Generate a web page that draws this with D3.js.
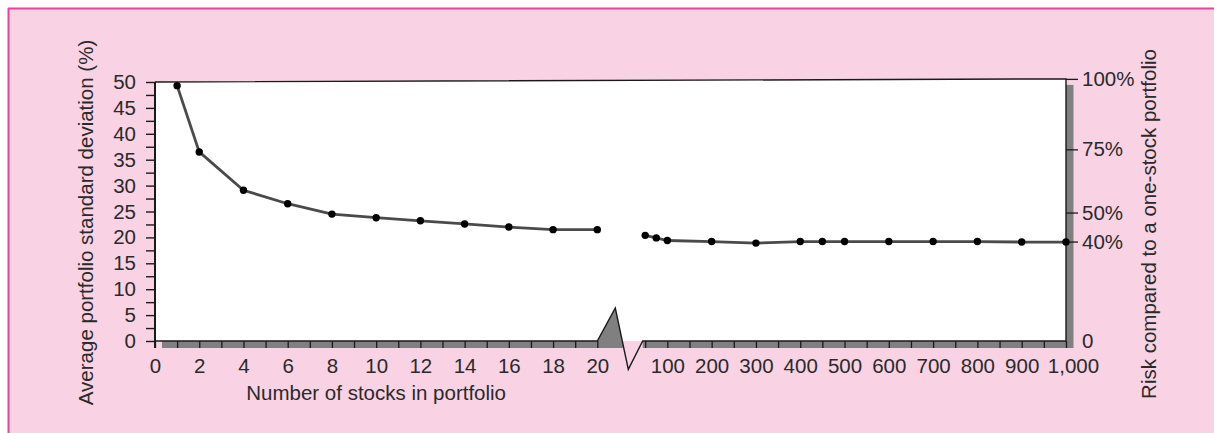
<!DOCTYPE html>
<html>
<head>
<meta charset="utf-8">
<script src="https://cdn.jsdelivr.net/npm/d3@7"></script>
<style>
  html, body { margin: 0; padding: 0; background: #ffffff; }
  svg { display: block; }
  text { font-family: "Liberation Sans", Arial, sans-serif; fill: #2a2a2a; }
</style>
</head>
<body>
<svg id="chart" width="1214" height="433"></svg>
<script>
// ---- data ----
const leftStocks = [1, 2, 4, 6, 8, 10, 12, 14, 16, 18, 20];
const leftStdDev = [49.3, 36.5, 29.1, 26.5, 24.5, 23.8, 23.2, 22.6, 22.0, 21.5, 21.5];
const rightStocks = [50, 75, 100, 200, 300, 400, 450, 500, 600, 700, 800, 900, 1000];
const rightStdDev = [20.4, 19.9, 19.4, 19.2, 18.9, 19.2, 19.2, 19.2, 19.2, 19.2, 19.2, 19.1, 19.1];
const leftYTicks = d3.range(0, 50.01, 2.5);
const leftXTicks = d3.range(0, 21, 1);
const rightXTicks = d3.range(50, 1001, 50);
const riskTickLevels = [0, 19.2, 24.8, 37.0, 50.6];   // positions in std-dev units
const riskTickLabels = ["0", "40%", "50%", "75%", "100%"];
const xTitle = "Number of stocks in portfolio";
const yTitle = "Average portfolio standard deviation (%)";
const rTitle = "Risk compared to a one-stock portfolio";

// ---- layout ----
const svg = d3.select("#chart");
const W = 1214, H = 433;
const plotL = 155, plotR = 1066, plotB = 341;
const shadow = 7;
const FS = 20.5;
const FONT = "Liberation Sans, Arial, sans-serif";
const TXT = "#2a2a2a";

const y = d3.scaleLinear().domain([0, 50]).range([plotB, 82]);
const xL = d3.scaleLinear().domain([0, 20]).range([plotL, 597.3]);
const xR = d3.scaleLinear().domain([50, 1000]).range([645.2, plotR]);

// background panel
svg.append("rect").attr("x", 0).attr("y", 0).attr("width", W).attr("height", H).attr("fill", "#ffffff");
svg.append("rect").attr("x", 9).attr("y", 9).attr("width", W - 9).attr("height", H - 9).attr("fill", "#f9d3e4");
svg.append("line").attr("x1", 8).attr("x2", W).attr("y1", 8.5).attr("y2", 8.5).attr("stroke", "#e8429a").attr("stroke-width", 2);
svg.append("line").attr("x1", 8.5).attr("x2", 8.5).attr("y1", 8).attr("y2", H).attr("stroke", "#e8429a").attr("stroke-width", 2);

const topL = y(50), topR = y(riskTickLevels[riskTickLevels.length - 1]);

// shadows
const gray = "#808080";
svg.append("rect").attr("x", plotR).attr("y", topR + 6).attr("width", shadow + 0.5).attr("height", plotB + shadow - topR - 6).attr("fill", gray);
svg.append("rect").attr("x", plotL + 7).attr("y", plotB).attr("width", xL(20) - plotL - 7).attr("height", shadow).attr("fill", gray);
const bx0 = xL(20), bEnd = xR(50) - 2.5;
svg.append("rect").attr("x", bEnd).attr("y", plotB).attr("width", plotR - bEnd).attr("height", shadow).attr("fill", gray);

// plot area
svg.append("path")
  .attr("d", `M${plotL},${topL} L${plotR},${topR} L${plotR},${plotB} L${plotL},${plotB} Z`)
  .attr("fill", "#ffffff");
svg.append("path")
  .attr("d", `M${plotL},${topL} L${plotR},${topR} L${plotR},${plotB}`)
  .attr("fill", "none").attr("stroke", "#1a1a1a").attr("stroke-width", 1.4);

// break glyph fill
svg.append("path")
  .attr("d", `M${bx0},${plotB} L${bx0 + 18},${plotB - 33} L${bx0 + 26.4},${plotB + shadow} L${bx0},${plotB + shadow} Z`)
  .attr("fill", gray);

// bottom axis lines with break
svg.append("path")
  .attr("d", `M${plotL},${plotB} L${bx0},${plotB} L${bx0 + 18},${plotB - 33} L${bx0 + 31},${plotB + 28.3} L${bEnd},${plotB} L${plotR},${plotB}`)
  .attr("fill", "none").attr("stroke", "#1a1a1a").attr("stroke-width", 1.4).attr("stroke-linejoin", "miter");

// left axis
svg.append("line").attr("x1", plotL).attr("x2", plotL).attr("y1", topL).attr("y2", plotB + shadow)
  .attr("stroke", "#1a1a1a").attr("stroke-width", 2);
const ya = svg.append("g").attr("transform", `translate(${plotL},0)`)
  .call(d3.axisLeft(y).tickValues(leftYTicks).tickSize(9).tickPadding(10)
    .tickFormat(d => (d % 5 === 0 ? d3.format("d")(d) : "")));
ya.select(".domain").remove();
ya.selectAll(".tick line").attr("stroke", "#1a1a1a").attr("stroke-width", 1.4);
ya.selectAll("text").attr("font-size", FS).attr("font-family", FONT).attr("fill", TXT);

// bottom left axis
const xaL = svg.append("g").attr("transform", `translate(0,${plotB})`)
  .call(d3.axisBottom(xL).tickValues(leftXTicks).tickSize(shadow).tickPadding(10)
    .tickFormat(d => (d % 2 === 0 ? d : "")));
xaL.select(".domain").remove();
xaL.selectAll(".tick line").attr("stroke", "#1a1a1a").attr("stroke-width", 1.3);
xaL.selectAll("text").attr("font-size", FS).attr("font-family", FONT).attr("fill", TXT);

// bottom right axis
const xaR = svg.append("g").attr("transform", `translate(0,${plotB})`)
  .call(d3.axisBottom(xR).tickValues(rightXTicks).tickSize(shadow).tickPadding(10)
    .tickFormat(d => (d % 100 === 0 ? d3.format(",")(d) : "")));
xaR.select(".domain").remove();
xaR.selectAll(".tick line").attr("stroke", "#1a1a1a").attr("stroke-width", 1.3);
xaR.selectAll("text").attr("font-size", FS).attr("font-family", FONT).attr("fill", TXT);
xaR.selectAll(".tick").filter(d => d === 1000).select("text").attr("x", 7);

// right risk axis
const ra = svg.append("g").attr("transform", `translate(${plotR},0)`)
  .call(d3.axisRight(y).tickValues(riskTickLevels).tickSize(12).tickPadding(4)
    .tickFormat((d, i) => riskTickLabels[i]));
ra.select(".domain").remove();
ra.selectAll(".tick line").attr("stroke", "#1a1a1a").attr("stroke-width", 1.3);
ra.selectAll(".tick").filter((d, i) => i === 0).select("line").remove();
ra.selectAll(".tick").filter((d, i) => i === 0).select("text").attr("x", 16);
ra.selectAll("text").attr("font-size", FS).attr("font-family", FONT).attr("fill", TXT);

// data lines
const lineL = d3.line().x(d => xL(d[0])).y(d => y(d[1]));
const lineR = d3.line().x(d => xR(d[0])).y(d => y(d[1]));
const leftData = leftStocks.map((s, i) => [s, leftStdDev[i]]);
const rightData = rightStocks.map((s, i) => [s, rightStdDev[i]]);

svg.append("path").datum(leftData).attr("d", lineL)
  .attr("fill", "none").attr("stroke", "#4a4a4a").attr("stroke-width", 2.8);
svg.append("path").datum(rightData).attr("d", lineR)
  .attr("fill", "none").attr("stroke", "#4a4a4a").attr("stroke-width", 2.8);

svg.append("g").selectAll("circle").data(leftData).join("circle")
  .attr("cx", d => xL(d[0])).attr("cy", d => y(d[1])).attr("r", 3.7).attr("fill", "#000");
svg.append("g").selectAll("circle").data(rightData).join("circle")
  .attr("cx", d => xR(d[0])).attr("cy", d => y(d[1])).attr("r", 3.7).attr("fill", "#000");

// titles
svg.append("text").attr("x", xL(10)).attr("y", 400).attr("text-anchor", "middle")
  .attr("font-size", FS).attr("font-family", FONT).attr("fill", TXT).text(xTitle);
svg.append("text").attr("transform", "translate(93,222.5) rotate(-90)").attr("text-anchor", "middle")
  .attr("font-size", FS).attr("font-family", FONT).attr("fill", TXT).text(yTitle);
svg.append("text").attr("transform", "translate(1156,224) rotate(-90)").attr("text-anchor", "middle")
  .attr("font-size", FS).attr("font-family", FONT).attr("fill", TXT).text(rTitle);
</script>
</body>
</html>
